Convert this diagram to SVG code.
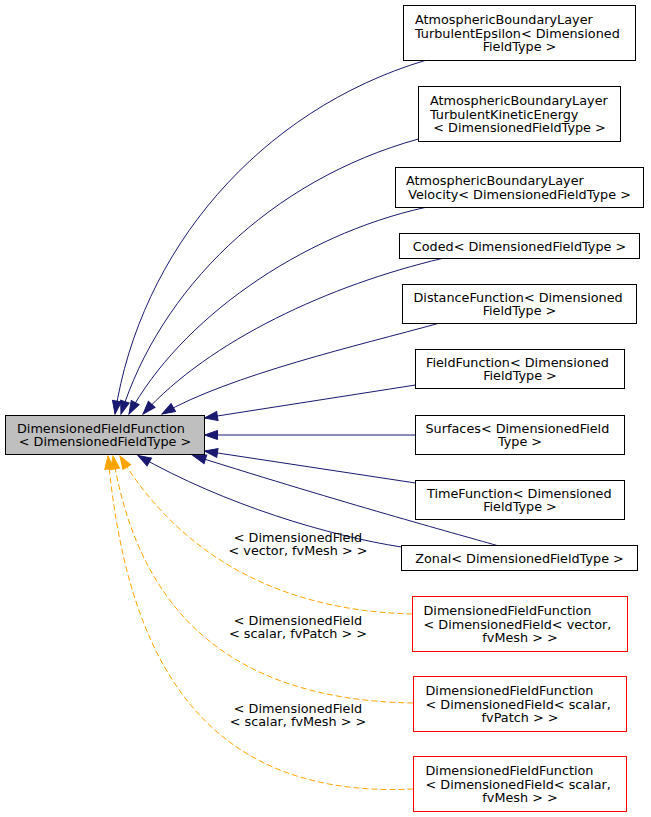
<svg xmlns="http://www.w3.org/2000/svg" width="651" height="817" viewBox="0 0 651 817">
<style>
text{font-family:"DejaVu Sans","Liberation Sans",sans-serif;font-size:12.8px;fill:#000}
.s{text-anchor:start}.m{text-anchor:middle}
.n{fill:#fff;stroke:#000;stroke-width:1}
.b{fill:#bfbfbf;stroke:#000;stroke-width:1}
.r{fill:#fff;stroke:#ff0000;stroke-width:1}
.e{fill:none;stroke:#191970;stroke-width:1;marker-end:url(#ab)}
.o{fill:none;stroke:#ffa500;stroke-width:1;stroke-dasharray:6,3;marker-end:url(#ao)}
</style>
<defs>
<marker id="ab" markerUnits="userSpaceOnUse" markerWidth="13" markerHeight="9" refX="13" refY="4.5" orient="auto" overflow="visible"><path d="M0,0 L13,4.5 L0,9 z" fill="#191970" stroke="#191970"/></marker>
<marker id="ao" markerUnits="userSpaceOnUse" markerWidth="13" markerHeight="9" refX="13" refY="4.5" orient="auto" overflow="visible"><path d="M0,0 L13,4.5 L0,9 z" fill="#ffa500" stroke="#ffa500"/></marker>
</defs>
<rect width="651" height="817" fill="#fff"/>
<g id="connectors">
<path class="e" d="M425,60.5 C260,110 140,250 115,414"/>
<path class="e" d="M418.5,139 C270,180 160,290 121,414"/>
<path class="e" d="M425,207.5 C300,235 180,320 129,414"/>
<path class="e" d="M442,258.5 C330,285 210,340 143,414"/>
<path class="e" d="M438,323.5 C360,345 230,375 162,414"/>
<path class="e" d="M415.5,385 L204.5,418"/>
<path class="e" d="M415.5,435 L204.5,435"/>
<path class="e" d="M415.5,483 L204.5,451"/>
<path class="e" d="M497,545.5 C450,532 350,505 193,455.5"/>
<path class="e" d="M401.5,547 C330,536 225,505 138,455.5"/>
<path class="o" d="M412.5,614 C250,610 165,530 120,456"/>
<path class="o" d="M413.5,703 C210,700 135,590 113,456"/>
<path class="o" d="M413.5,789 C190,800 125,640 108,456"/>
<text class="m" x="298" y="541.5">&lt; DimensionedField</text>
<text class="m" x="298" y="555">&lt; vector, fvMesh &gt; &gt;</text>
<text class="m" x="298" y="624.5">&lt; DimensionedField</text>
<text class="m" x="298" y="638">&lt; scalar, fvPatch &gt; &gt;</text>
<text class="m" x="298" y="712.5">&lt; DimensionedField</text>
<text class="m" x="298" y="726">&lt; scalar, fvMesh &gt; &gt;</text>
</g>
<g id="base">
<rect class="b" x="5.5" y="415.5" width="199" height="39"/>
<text class="s" x="17" y="432.5">DimensionedFieldFunction</text>
<text class="m" x="105" y="446">&lt; DimensionedFieldType &gt;</text>
</g>
<g id="n1">
<rect class="n" x="403.5" y="5.5" width="232" height="55"/>
<text class="s" x="415" y="24.1">AtmosphericBoundaryLayer</text>
<text class="s" x="415" y="37.6">TurbulentEpsilon&lt; Dimensioned</text>
<text class="m" x="519.5" y="51.1">FieldType &gt;</text>
</g>
<g id="n2">
<rect class="n" x="418.5" y="86.5" width="202" height="55"/>
<text class="s" x="430" y="105.1">AtmosphericBoundaryLayer</text>
<text class="s" x="430" y="118.6">TurbulentKineticEnergy</text>
<text class="m" x="519.5" y="132.1">&lt; DimensionedFieldType &gt;</text>
</g>
<g id="n3">
<rect class="n" x="395.5" y="167.5" width="248" height="40"/>
<text class="s" x="406" y="185">AtmosphericBoundaryLayer</text>
<text class="m" x="519.5" y="198.5">Velocity&lt; DimensionedFieldType &gt;</text>
</g>
<g id="n4">
<rect class="n" x="399.5" y="233.5" width="240" height="25"/>
<text class="m" x="519.5" y="250.6">Coded&lt; DimensionedFieldType &gt;</text>
</g>
<g id="n5">
<rect class="n" x="402.5" y="284.5" width="234" height="39"/>
<text class="s" x="413.5" y="301.5">DistanceFunction&lt; Dimensioned</text>
<text class="m" x="519.5" y="315">FieldType &gt;</text>
</g>
<g id="n6">
<rect class="n" x="415.5" y="349.5" width="209" height="39"/>
<text class="s" x="426" y="366.5">FieldFunction&lt; Dimensioned</text>
<text class="m" x="520" y="380">FieldType &gt;</text>
</g>
<g id="n7">
<rect class="n" x="415.5" y="415.5" width="209" height="39"/>
<text class="s" x="425.5" y="432.5">Surfaces&lt; DimensionedField</text>
<text class="m" x="520" y="446">Type &gt;</text>
</g>
<g id="n8">
<rect class="n" x="415.5" y="480.5" width="209" height="39"/>
<text class="s" x="427" y="497.5">TimeFunction&lt; Dimensioned</text>
<text class="m" x="520" y="511">FieldType &gt;</text>
</g>
<g id="n9">
<rect class="n" x="401.5" y="545.5" width="236" height="25"/>
<text class="m" x="519.5" y="562.6">Zonal&lt; DimensionedFieldType &gt;</text>
</g>
<g id="n10">
<rect class="r" x="412.5" y="596.5" width="215" height="55"/>
<text class="s" x="423.5" y="615.1">DimensionedFieldFunction</text>
<text class="s" x="423.5" y="628.6">&lt; DimensionedField&lt; vector,</text>
<text class="m" x="520" y="642.1">fvMesh &gt; &gt;</text>
</g>
<g id="n11">
<rect class="r" x="413.5" y="676.5" width="213" height="55"/>
<text class="s" x="425.5" y="695.1">DimensionedFieldFunction</text>
<text class="s" x="425.5" y="708.6">&lt; DimensionedField&lt; scalar,</text>
<text class="m" x="520" y="722.1">fvPatch &gt; &gt;</text>
</g>
<g id="n12">
<rect class="r" x="413.5" y="756.5" width="213" height="55"/>
<text class="s" x="425.5" y="775.1">DimensionedFieldFunction</text>
<text class="s" x="425.5" y="788.6">&lt; DimensionedField&lt; scalar,</text>
<text class="m" x="520" y="802.1">fvMesh &gt; &gt;</text>
</g>
</svg>
